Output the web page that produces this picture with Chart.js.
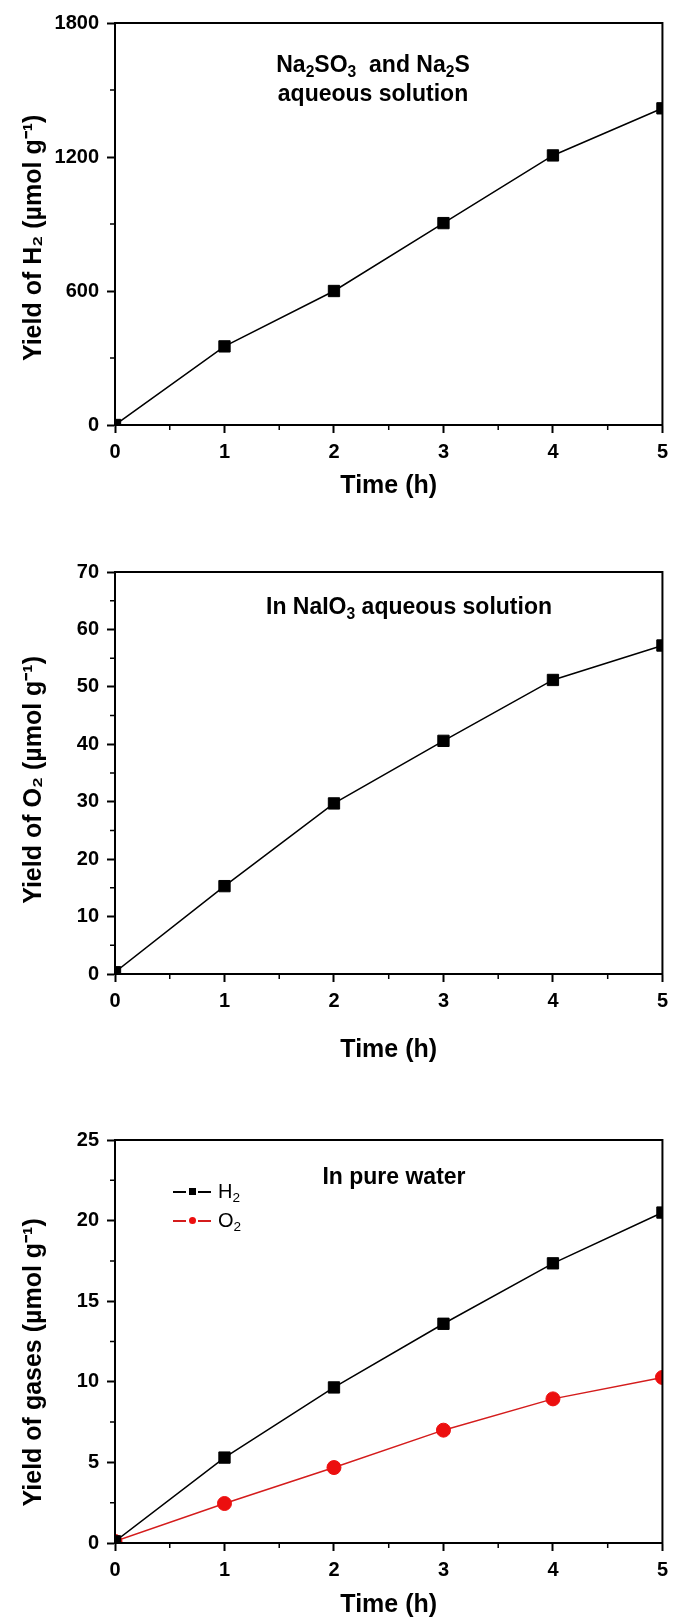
<!DOCTYPE html>
<html>
<head>
<meta charset="utf-8">
<script src="https://cdn.jsdelivr.net/npm/chart.js@4.4.0/dist/chart.umd.min.js"></script>
<style>
  html, body { margin: 0; padding: 0; background: #fff; }
  #page { position: relative; width: 675px; height: 1620px; overflow: hidden;
          font-family: "Liberation Sans", Arial, sans-serif; color: #000; }
  .panel { position: absolute; left: 0; }
  .note { position: absolute; font-weight: bold; font-size: 23px; line-height: 29px;
          text-align: center; white-space: nowrap; transform: translateX(-50%); }
  sub { font-size: 0.68em; vertical-align: -0.3em; line-height: 0; }
  .legend { position: absolute; left: 173px; top: 1177px; font-size: 20px; }
  .legend .row { height: 29px; display: flex; align-items: center; }
  .legend .sample { position: relative; width: 38px; height: 29px; margin-right: 7px; }
  .legend .seg { position: absolute; top: 13.5px; height: 2px; width: 13px; }
  .legend .mark { position: absolute; left: 16px; top: 11px; width: 7px; height: 7px; }
</style>
</head>
<body>
<div id="page">
  <canvas id="c1" class="panel" width="675" height="520" style="top:0px"></canvas>
  <canvas id="c2" class="panel" width="675" height="560" style="top:520px"></canvas>
  <canvas id="c3" class="panel" width="675" height="540" style="top:1080px"></canvas>

  <div class="note" style="left:373px; top:50px">Na<sub>2</sub>SO<sub>3</sub>&nbsp; and Na<sub>2</sub>S<br>aqueous solution</div>
  <div class="note" style="left:409px; top:592px">In NaIO<sub>3</sub> aqueous solution</div>
  <div class="note" style="left:394px; top:1162px">In pure water</div>
  <div class="legend" id="legend3"></div>
</div>

<script>
// === DATA ===
const times = [0, 1, 2, 3, 4, 5];
const xTicks = [0, 1, 2, 3, 4, 5];

// Na2SO3 / Na2S solution, H2
const h2Sacrificial = [0, 352, 600, 904, 1207, 1418];
const yTicks1 = [0, 600, 1200, 1800];

// NaIO3 solution, O2
const o2Iodate = [0.3, 15.3, 29.7, 40.6, 51.2, 57.2];
const yTicks2 = [0, 10, 20, 30, 40, 50, 60, 70];

// pure water
const h2Water = [0.1, 5.3, 9.65, 13.6, 17.35, 20.5];
const o2Water = [0.1, 2.45, 4.68, 7.0, 8.94, 10.27];
const yTicks3 = [0, 5, 10, 15, 20, 25];

Chart.defaults.font.family = '"Liberation Sans", Arial, sans-serif';
Chart.defaults.color = '#000';

const toPoints = vals => times.map((t, i) => ({ x: t, y: vals[i] }));

// box round the plot area
const frame = {
  id: 'frame',
  afterDatasetsDraw(chart) {
    const { ctx, chartArea: a } = chart;
    ctx.save();
    ctx.strokeStyle = '#000';
    ctx.lineWidth = 2;
    ctx.strokeRect(a.left, a.top, a.right - a.left, a.bottom - a.top);
    ctx.restore();
  }
};

// short ticks half way between the labelled ones
const minorTicks = {
  id: 'minorTicks',
  afterDraw(chart) {
    const { ctx, chartArea: a, scales: { x, y } } = chart;
    ctx.save();
    ctx.strokeStyle = '#000';
    ctx.lineWidth = 1.5;
    ctx.beginPath();
    for (let i = 1; i < x.ticks.length; i++) {
      const px = x.getPixelForValue((x.ticks[i - 1].value + x.ticks[i].value) / 2);
      ctx.moveTo(px, a.bottom);
      ctx.lineTo(px, a.bottom + 5);
    }
    for (let i = 1; i < y.ticks.length; i++) {
      const py = y.getPixelForValue((y.ticks[i - 1].value + y.ticks[i].value) / 2);
      ctx.moveTo(a.left, py);
      ctx.lineTo(a.left - 5, py);
    }
    ctx.stroke();
    ctx.restore();
  }
};

const tickFont = { size: 20, weight: 'bold' };
const titleFont = { size: 25, weight: 'bold' };

function blackSeries(label, vals) {
  return {
    label, data: toPoints(vals),
    borderColor: '#000', borderWidth: 1.5,
    pointStyle: 'rect', pointRadius: 8, pointBorderWidth: 1,
    pointBackgroundColor: '#000', pointBorderColor: '#000',
    tension: 0, clip: 0
  };
}

function redSeries(label, vals) {
  return {
    label, data: toPoints(vals),
    borderColor: '#d41c1c', borderWidth: 1.5,
    pointStyle: 'circle', pointRadius: 7, pointBorderWidth: 1,
    pointBackgroundColor: '#ec0f0f', pointBorderColor: '#ec0f0f',
    tension: 0, clip: 0
  };
}

// yPad: trailing room on the rotated title, which pushes its text down the axis
function makePanel(id, datasets, yTicks, yTitle, yPad, padTop, xAxisH, xTitlePad) {
  return new Chart(document.getElementById(id), {
    type: 'line',
    data: { datasets },
    options: {
      responsive: false,
      animation: false,
      layout: { padding: { top: padTop, right: 8, left: 0, bottom: 0 } },
      plugins: { legend: { display: false }, tooltip: { enabled: false } },
      scales: {
        x: {
          type: 'linear',
          min: xTicks[0], max: xTicks[xTicks.length - 1],
          ticks: { stepSize: xTicks[1] - xTicks[0], font: tickFont, color: '#000', padding: 7, maxRotation: 0 },
          grid: { drawOnChartArea: false, tickLength: 8, tickWidth: 2, tickColor: '#000' },
          border: { color: '#000', width: 2 },
          title: { display: true, text: 'Time (h)', font: titleFont, color: '#000', padding: { top: 0, bottom: xTitlePad } },
          afterFit: s => { s.height = xAxisH; }
        },
        y: {
          min: yTicks[0], max: yTicks[yTicks.length - 1],
          ticks: { stepSize: yTicks[1] - yTicks[0], font: tickFont, color: '#000', padding: 8,
                   callback: v => String(v) },
          grid: { drawOnChartArea: false, tickLength: 8, tickWidth: 2, tickColor: '#000' },
          border: { color: '#000', width: 2 },
          title: { display: true, text: yTitle + ' '.repeat(yPad), font: titleFont, color: '#000',
                   padding: { top: 19, bottom: 0 } },
          afterFit: s => { s.width = 115; }
        }
      }
    },
    plugins: [frame, minorTicks]
  });
}

makePanel('c1', [blackSeries('H₂', h2Sacrificial)], yTicks1, 'Yield of H₂ (µmol g⁻¹)', 4, 23, 95, 18.5);
makePanel('c2', [blackSeries('O₂', o2Iodate)], yTicks2, 'Yield of O₂ (µmol g⁻¹)', 2, 52, 106, 14.5);
const chart3 = makePanel('c3', [blackSeries('H₂', h2Water), redSeries('O₂', o2Water)], yTicks3,
  'Yield of gases (µmol g⁻¹)', 6, 60, 77, 0);

// legend for the pure-water panel, built from its datasets
const legendBox = document.getElementById('legend3');
chart3.data.datasets.forEach(ds => {
  const row = document.createElement('div');
  row.className = 'row';
  const round = ds.pointStyle === 'circle' ? 'border-radius:50%;' : '';
  row.innerHTML = `
    <span class="sample">
      <span class="seg" style="left:0;background:${ds.borderColor}"></span>
      <span class="mark" style="background:${ds.pointBackgroundColor};${round}"></span>
      <span class="seg" style="left:25px;background:${ds.borderColor}"></span>
    </span>
    <span>${ds.label.replace('₂', '<sub>2</sub>')}</span>`;
  legendBox.appendChild(row);
});
</script>
</body>
</html>
